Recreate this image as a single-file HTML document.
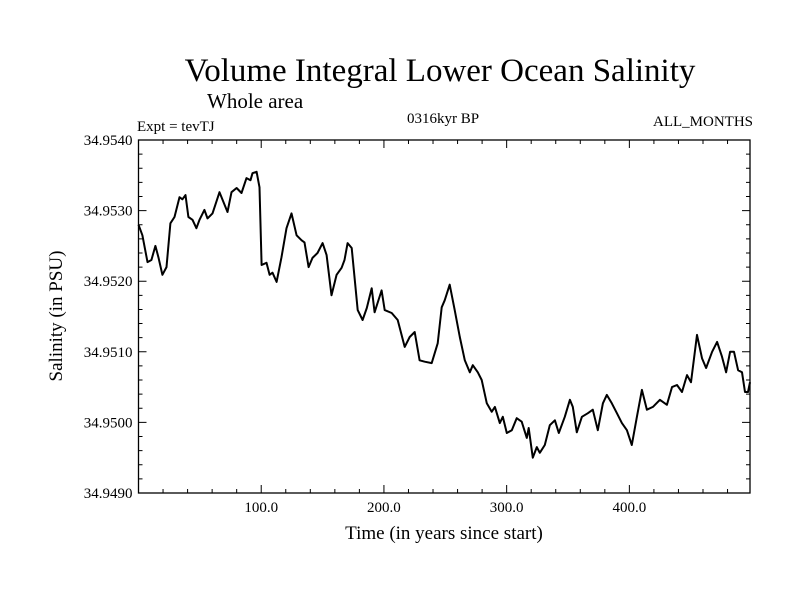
<!DOCTYPE html>
<html><head><meta charset="utf-8"><style>
body{margin:0;background:#fff}
svg text{font-family:"Liberation Serif",serif;fill:#000}
</style></head><body>
<svg id="chart" width="800" height="600" xmlns="http://www.w3.org/2000/svg">
<text x="440" y="81" font-size="33" text-anchor="middle">Volume Integral Lower Ocean Salinity</text>
<text x="207" y="108" font-size="21">Whole area</text>
<text x="137" y="131" font-size="15">Expt = tevTJ</text>
<text x="443" y="123" font-size="15" text-anchor="middle">0316kyr BP</text>
<text x="753" y="126" font-size="15" text-anchor="end">ALL_MONTHS</text>
<text transform="translate(62,316) rotate(-90)" font-size="19" text-anchor="middle">Salinity (in PSU)</text>
<text x="444" y="539" font-size="19" text-anchor="middle">Time (in years since start)</text>
<g id="axes"></g>
<g id="plot"></g>
</svg>
<script>
const years=[0,3.2,7.3,10.5,13.8,16.2,19.5,22.8,26.0,29.3,33.4,35.8,38.3,40.7,44.0,47.2,49.7,53.7,56.2,60.3,66.0,72.5,75.8,79.9,83.9,88.0,91.3,92.9,96.2,98.6,100.3,104.3,106.8,109.2,112.5,116.5,120.6,124.7,128.8,132.9,135.3,138.6,141.8,145.9,150.0,153.3,157.3,161.4,165.5,167.9,170.4,173.7,178.6,182.6,186.0,190.0,192.4,198.1,200.6,206.3,211.2,216.9,221.0,225.1,229.1,233.2,238.9,243.8,247.1,249.5,253.6,257.7,261.8,265.9,270.0,272.4,276.5,279.7,283.8,287.8,290.4,294.4,296.9,300.1,304.2,308.2,312.3,316.4,318.0,321.3,324.6,327.0,331.1,335.2,339.3,342.5,347.4,351.5,353.9,357.2,361.3,366.2,370.2,374.3,378.4,381.6,385.7,389.8,393.9,398.0,402.0,406.1,410.2,414.3,419.2,424.9,430.6,434.7,438.8,442.9,447.0,450.2,455.1,459.2,462.5,467.4,471.5,475.5,478.8,482.1,485.3,488.6,491.8,494.2,496.7,498.3];
const salinity=[34.95280,34.95265,34.95227,34.95230,34.95250,34.95234,34.95209,34.95220,34.95282,34.95291,34.95319,34.95316,34.95322,34.95291,34.95287,34.95275,34.95287,34.95301,34.95289,34.95296,34.95326,34.95298,34.95326,34.95332,34.95325,34.95346,34.95343,34.95353,34.95355,34.95333,34.95223,34.95226,34.95209,34.95212,34.95199,34.95234,34.95275,34.95296,34.95265,34.95258,34.95255,34.95220,34.95233,34.95240,34.95254,34.95237,34.95180,34.95209,34.95219,34.95230,34.95254,34.95247,34.95159,34.95145,34.95162,34.95190,34.95156,34.95187,34.95159,34.95155,34.95145,34.95107,34.95121,34.95128,34.95088,34.95086,34.95084,34.95112,34.95163,34.95173,34.95195,34.95159,34.95121,34.95088,34.95071,34.95081,34.95071,34.95060,34.95027,34.95015,34.95022,34.94999,34.95008,34.94985,34.94989,34.95006,34.95001,34.94978,34.94992,34.94950,34.94965,34.94957,34.94968,34.94996,34.95003,34.94985,34.95008,34.95032,34.95022,34.94986,34.95008,34.95013,34.95018,34.94989,34.95027,34.95039,34.95027,34.95013,34.94999,34.94989,34.94968,34.95008,34.95046,34.95018,34.95022,34.95032,34.95025,34.95050,34.95053,34.95043,34.95067,34.95057,34.95124,34.95091,34.95077,34.95100,34.95114,34.95093,34.95071,34.95100,34.95100,34.95074,34.95071,34.95043,34.95043,34.95057];
const xTickValues=[100,200,300,400];
const xTickLabels=["100.0","200.0","300.0","400.0"];
const yTickValues=[34.949,34.950,34.951,34.952,34.953,34.954];
const yTickLabels=["34.9490","34.9500","34.9510","34.9520","34.9530","34.9540"];

const L=138.5,R=750,T=140,B=493,XMIN=0,XMAX=498.3,YMIN=34.949,YMAX=34.954;
const sx=v=>L+(v-XMIN)/(XMAX-XMIN)*(R-L);
const sy=v=>B-(v-YMIN)/(YMAX-YMIN)*(B-T);
const NS="http://www.w3.org/2000/svg";
const axes=document.getElementById('axes'),plot=document.getElementById('plot');
function mk(tag,attrs,parent){const e=document.createElementNS(NS,tag);for(const k in attrs)e.setAttribute(k,attrs[k]);parent.appendChild(e);return e;}
const frame=mk('rect',{x:L,y:T,width:R-L,height:B-T,fill:'none',stroke:'#000','stroke-width':1.3},axes);


// x ticks every 20 years
for(let v=20;v<XMAX;v+=20){const major=v%100===0;const len=major?8:4;const x=sx(v);
 const t=mk('path',{d:`M${x},${B}V${B-len}M${x},${T}V${T+len}`,stroke:'#000','stroke-width':1},axes);
 
 }
xTickValues.forEach((v,i)=>{const t=mk('text',{x:sx(v),y:B+19,'font-size':15,'text-anchor':'middle'},axes);t.textContent=xTickLabels[i];
 
 });
// y ticks every 0.0002
for(let k=1;k<25;k++){const v=YMIN+k*0.0002;const major=k%5===0;const len=major?8:4;const y=sy(v);
 const t=mk('path',{d:`M${L},${y}H${L+len}M${R},${y}H${R-len}`,stroke:'#000','stroke-width':1},axes);
 
 }
yTickValues.forEach((v,i)=>{const t=mk('text',{x:L-6,y:sy(v)+5,'font-size':15,'text-anchor':'end'},axes);t.textContent=yTickLabels[i];
 
 });
const d=years.map((y,i)=>(i?'L':'M')+sx(y).toFixed(1)+','+sy(salinity[i]).toFixed(1)).join('');
const line=mk('path',{d:d,fill:'none',stroke:'#000','stroke-width':2,'stroke-linejoin':'round'},plot);


</script>
</body></html>
